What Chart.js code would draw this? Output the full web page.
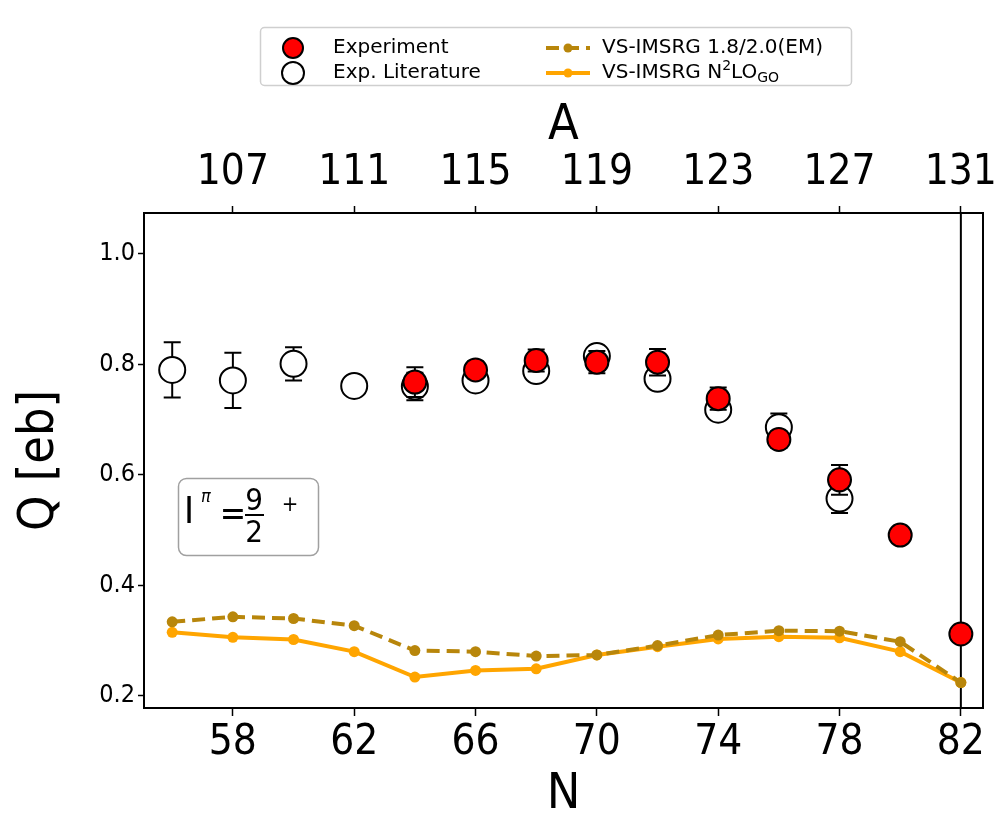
<!DOCTYPE html>
<html>
<head>
<meta charset="utf-8">
<script src="https://cdn.jsdelivr.net/npm/chart.js@4.4.0/dist/chart.umd.min.js"></script>
<style>
  html, body { margin: 0; padding: 0; background: #fff; }
  #wrap { width: 1001px; height: 815px; position: relative; }
</style>
</head>
<body>
<div id="wrap"><canvas id="qChart"></canvas></div>
<script>
// theory curves (VS-IMSRG), one value per even N
const theoryN = [56, 58, 60, 62, 64, 66, 68, 70, 72, 74, 76, 78, 80, 82];
const emQ     = [0.334, 0.343, 0.340, 0.327, 0.282, 0.280, 0.272, 0.274, 0.291, 0.310, 0.318, 0.317, 0.298, 0.224];
const n2loQ   = [0.315, 0.306, 0.302, 0.280, 0.234, 0.246, 0.249, 0.274, 0.289, 0.303, 0.307, 0.305, 0.280, 0.224];

// literature values
const litN   = [56, 58, 60, 62, 64, 66, 68, 70, 72, 74, 76, 78];
const litQ   = [0.790, 0.771, 0.801, 0.761, 0.760, 0.771, 0.788, 0.815, 0.774, 0.718, 0.686, 0.557];
const litErr = [0.050, 0.050, 0.030, 0, 0.025, 0, 0, 0, 0, 0, 0.025, 0.026];

// this experiment
const expN   = [64, 66, 68, 70, 72, 74, 76, 78, 80, 82];
const expQ   = [0.768, 0.790, 0.807, 0.804, 0.804, 0.738, 0.664, 0.591, 0.491, 0.312];
const expErr = [0.027, 0.015, 0.020, 0.020, 0.024, 0.020, 0.015, 0.027, 0.008, 0.008];

const nTicks = [58, 62, 66, 70, 74, 78, 82];
const aTicks = [107, 111, 115, 119, 123, 127, 131];
const qTicks = [0.2, 0.4, 0.6, 0.8, 1.0];
const zOffset = 49;      // A = N + 49
const magicN = 82;

const nMin = 55.07, nMax = 82.73;
const qMin = 0.178, qMax = 1.074;
const FONT = '"DejaVu Sans", "Liberation Sans", sans-serif';
const NARROW = '"DejaVu Sans Condensed", "DejaVu Sans", sans-serif';

const toPts = (xs, ys) => xs.map((v, i) => ({ x: v, y: ys[i] }));

function roundRect(ctx, x, y, w, h, r) {
  ctx.beginPath();
  ctx.moveTo(x + r, y);
  ctx.lineTo(x + w - r, y);
  ctx.arcTo(x + w, y, x + w, y + r, r);
  ctx.lineTo(x + w, y + h - r);
  ctx.arcTo(x + w, y + h, x + w - r, y + h, r);
  ctx.lineTo(x + r, y + h);
  ctx.arcTo(x, y + h, x, y + h - r, r);
  ctx.lineTo(x, y + r);
  ctx.arcTo(x, y, x + r, y, r);
  ctx.closePath();
}

// error bars drawn right before their own dataset
const errorBars = {
  id: 'errorBars',
  beforeDatasetDraw(chart, args) {
    const ds = chart.data.datasets[args.index];
    if (!ds.errors) return;
    const { ctx } = chart;
    const xs = chart.scales.x, ys = chart.scales.y;
    ctx.save();
    ctx.strokeStyle = '#000';
    ctx.lineWidth = 2;
    ds.data.forEach((p, i) => {
      const e = ds.errors[i];
      if (!e) return;
      const px = xs.getPixelForValue(p.x);
      const lo = ys.getPixelForValue(p.y - e);
      const hi = ys.getPixelForValue(p.y + e);
      ctx.beginPath();
      ctx.moveTo(px, lo); ctx.lineTo(px, hi);
      ctx.moveTo(px - 8.5, lo); ctx.lineTo(px + 8.5, lo);
      ctx.moveTo(px - 8.5, hi); ctx.lineTo(px + 8.5, hi);
      ctx.stroke();
    });
    ctx.restore();
  }
};

// vertical line at the shell closure
const magicLine = {
  id: 'magicLine',
  beforeDatasetsDraw(chart) {
    const { ctx, chartArea } = chart;
    const px = chart.scales.x.getPixelForValue(magicN);
    ctx.save();
    ctx.strokeStyle = '#000';
    ctx.lineWidth = 2;
    ctx.beginPath();
    ctx.moveTo(px, chartArea.top);
    ctx.lineTo(px, chartArea.bottom);
    ctx.stroke();
    ctx.restore();
  }
};

// spin-parity box and the legend
const extras = {
  id: 'extras',
  afterDraw(chart) {
    const { ctx, chartArea } = chart;
    ctx.save();

    // I^pi = 9/2 + box
    const bx = chartArea.left + 34, by = chartArea.top + 265;
    roundRect(ctx, bx + 0.5, by + 0.5, 140, 77, 8);
    ctx.fillStyle = '#fff';
    ctx.fill();
    ctx.strokeStyle = '#a0a0a0';
    ctx.lineWidth = 1.5;
    ctx.stroke();
    ctx.fillStyle = '#000';
    ctx.textBaseline = 'alphabetic';
    ctx.textAlign = 'left';
    ctx.font = '38px ' + NARROW;
    ctx.fillText('I', bx + 6, by + 45);
    ctx.font = 'italic 18px ' + NARROW;
    ctx.fillText('π', bx + 23, by + 24);
    ctx.textAlign = 'center';
    ctx.font = '35px ' + NARROW;
    ctx.fillText('=', bx + 55, by + 47);
    ctx.font = '31px ' + NARROW;
    ctx.fillText('9', bx + 76, by + 32);
    ctx.fillText('2', bx + 76, by + 64);
    ctx.fillRect(bx + 67, by + 36, 19, 2);
    ctx.font = '22px ' + NARROW;
    ctx.fillText('+', bx + 112, by + 33);

    // legend
    roundRect(ctx, 260.5, 27.5, 591, 58, 4);
    ctx.fillStyle = '#fff';
    ctx.fill();
    ctx.strokeStyle = '#cfcfcf';
    ctx.lineWidth = 1.5;
    ctx.stroke();

    const ds = chart.data.datasets;
    const row1 = 48, row2 = 73;
    ctx.lineWidth = 2;
    ctx.strokeStyle = '#000';
    ctx.beginPath(); ctx.arc(293, row1, 10, 0, Math.PI * 2);
    ctx.fillStyle = ds[0].backgroundColor; ctx.fill(); ctx.stroke();
    ctx.beginPath(); ctx.arc(293, row2, 11, 0, Math.PI * 2);
    ctx.fillStyle = ds[1].backgroundColor; ctx.fill(); ctx.stroke();

    ctx.lineWidth = 4;
    ctx.strokeStyle = ds[2].borderColor;
    ctx.setLineDash(ds[2].borderDash);
    ctx.beginPath(); ctx.moveTo(546, row1); ctx.lineTo(590, row1); ctx.stroke();
    ctx.setLineDash([]);
    ctx.beginPath(); ctx.arc(568, row1, 4.5, 0, Math.PI * 2);
    ctx.fillStyle = ds[2].borderColor; ctx.fill();
    ctx.strokeStyle = ds[3].borderColor;
    ctx.beginPath(); ctx.moveTo(546, row2); ctx.lineTo(590, row2); ctx.stroke();
    ctx.beginPath(); ctx.arc(568, row2, 4.5, 0, Math.PI * 2);
    ctx.fillStyle = ds[3].borderColor; ctx.fill();

    ctx.fillStyle = '#000';
    ctx.textAlign = 'left';
    ctx.textBaseline = 'middle';
    ctx.font = '20px ' + FONT;
    ctx.fillText(ds[0].label, 333, row1);
    ctx.fillText(ds[1].label, 333, row2);
    ctx.fillText(ds[2].label, 602, row1);
    // VS-IMSRG N^2LO_GO
    let tx = 602;
    const part = (t, size, dy) => {
      ctx.font = size + 'px ' + FONT;
      ctx.fillText(t, tx, row2 + dy);
      tx += ctx.measureText(t).width;
    };
    part('VS-IMSRG N', 20, 0);
    part('2', 14, -7);
    part('LO', 20, 0);
    part('GO', 14, 5);

    ctx.restore();
  }
};

const axisCommon = {
  type: 'linear',
  border: { display: true, color: '#000', width: 2 },
  grid: { display: true, drawOnChartArea: false, drawTicks: true, tickLength: 8, tickColor: '#000', tickWidth: 1.5 },
  ticks: { color: '#000', maxRotation: 0, autoSkip: false }
};

new Chart(document.getElementById('qChart'), {
  type: 'scatter',
  data: {
    datasets: [
      {
        label: 'Experiment',
        data: toPts(expN, expQ),
        errors: expErr,
        backgroundColor: '#ff0000',
        borderColor: '#000',
        borderWidth: 2,
        pointRadius: 11.5
      },
      {
        label: 'Exp. Literature',
        data: toPts(litN, litQ),
        errors: litErr,
        backgroundColor: '#ffffff',
        borderColor: '#000',
        borderWidth: 2,
        pointRadius: 13
      },
      {
        label: 'VS-IMSRG 1.8/2.0(EM)',
        data: toPts(theoryN, emQ),
        showLine: true,
        borderColor: '#b8860b',
        backgroundColor: '#b8860b',
        borderWidth: 4,
        borderDash: [13, 7],
        pointRadius: 5.5,
        pointBorderWidth: 0
      },
      {
        label: 'VS-IMSRG N2LO_GO',
        data: toPts(theoryN, n2loQ),
        showLine: true,
        borderColor: '#ffa500',
        backgroundColor: '#ffa500',
        borderWidth: 4,
        pointRadius: 5.5,
        pointBorderWidth: 0
      }
    ]
  },
  options: {
    responsive: true,
    maintainAspectRatio: false,
    animation: false,
    events: [],
    layout: { padding: 0 },
    plugins: { legend: { display: false }, tooltip: { enabled: false } },
    scales: {
      x: {
        ...axisCommon,
        position: 'bottom',
        min: nMin, max: nMax,
        afterBuildTicks: s => { s.ticks = nTicks.map(v => ({ value: v })); },
        ticks: { ...axisCommon.ticks, font: { family: NARROW, size: 42 }, padding: 2 },
        title: { display: true, text: 'N', color: '#000', font: { family: NARROW, size: 50, lineHeight: 0.8 }, padding: { top: 0, bottom: 0 } },
        afterFit: s => { s.height = 107; s.paddingLeft = 0; s.paddingRight = 0; }
      },
      xTop: {
        ...axisCommon,
        position: 'top',
        min: nMin + zOffset, max: nMax + zOffset,
        grid: { ...axisCommon.grid, tickLength: 7 },
        afterBuildTicks: s => { s.ticks = aTicks.map(v => ({ value: v })); },
        ticks: { ...axisCommon.ticks, font: { family: NARROW, size: 42 }, padding: 8 },
        title: { display: true, text: 'A', color: '#000', font: { family: NARROW, size: 50, lineHeight: 0.8 }, padding: { top: 106, bottom: 0 } },
        afterFit: s => { s.height = 213; s.paddingLeft = 0; s.paddingRight = 0; }
      },
      y: {
        ...axisCommon,
        position: 'left',
        min: qMin, max: qMax,
        grid: { ...axisCommon.grid, tickLength: 6 },
        afterBuildTicks: s => { s.ticks = qTicks.map(v => ({ value: v })); },
        ticks: { ...axisCommon.ticks, font: { family: NARROW, size: 25 }, padding: 3, callback: v => v.toFixed(1) },
        title: { display: true, text: 'Q [eb]', color: '#000', font: { family: NARROW, size: 50, lineHeight: 0.8 }, padding: { top: 20, bottom: 0 } },
        afterFit: s => { s.width = 144; s.paddingTop = 0; s.paddingBottom = 0; }
      },
      yR: {
        type: 'linear',
        position: 'right',
        min: qMin, max: qMax,
        border: { display: true, color: '#000', width: 2 },
        grid: { display: false },
        ticks: { display: false },
        afterFit: s => { s.width = 18; s.paddingTop = 0; s.paddingBottom = 0; }
      }
    }
  },
  plugins: [errorBars, magicLine, extras]
});
</script>
</body>
</html>
